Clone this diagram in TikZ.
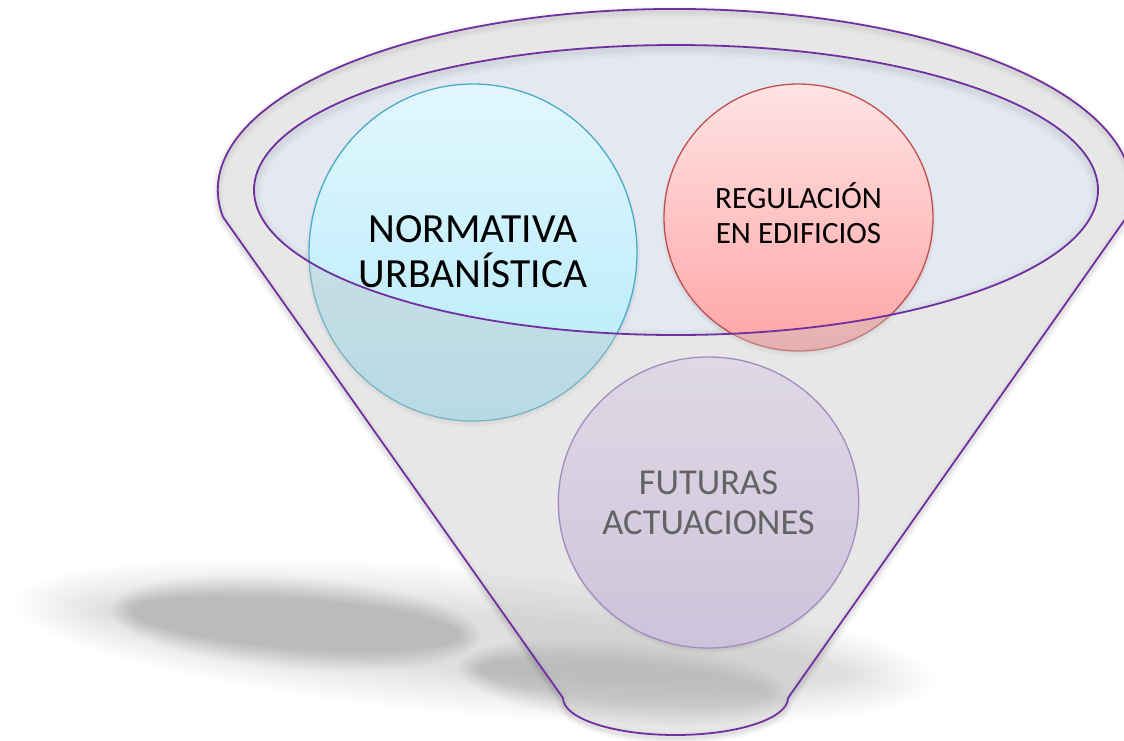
\documentclass[tikz,border=0pt]{standalone}
\usepackage{fontspec}
\setmainfont{Carlito}
\usetikzlibrary{shapes.geometric}
\definecolor{funnelpurple}{HTML}{7030A0}
\definecolor{innerfill}{HTML}{E4E8F0}
\definecolor{overlaygray}{HTML}{C2C2C2}
\definecolor{cyantop}{HTML}{E2F7FD}
\definecolor{cyanbot}{HTML}{B3EAFA}
\definecolor{cyanline}{HTML}{4BACC6}
\definecolor{redtop}{HTML}{FFE3E4}
\definecolor{redbot}{HTML}{FFA5A5}
\definecolor{redline}{HTML}{C0504D}
\definecolor{lilactop}{HTML}{DED9E5}
\definecolor{lilacbot}{HTML}{CDC3DB}
\definecolor{lilacline}{HTML}{A08DBD}
\definecolor{lilactext}{HTML}{636363}
\begin{document}
\begin{tikzpicture}[x=1pt,y=-1pt,
  funnelshape/.style={insert path={(223,217) arc[start angle=171.4, end angle=368.6, x radius=457, y radius=181] -- (788,698) arc[start angle=0, end angle=180, x radius=112.5, y radius=37] -- cycle}},
  innershape/.style={insert path={(676,190) ellipse [x radius=422, y radius=145]}},
  outline/.style={draw=funnelpurple, line width=1.8pt, line join=round},
  bubble/.style={ellipse, inner sep=0pt, line width=1.3pt},
  bigtext/.style={align=center, font=\fontsize{41.5}{45}\selectfont},
  midtext/.style={align=center, font=\fontsize{31}{35}\selectfont},
  lilacfont/.style={align=center, font=\fontsize{36.5}{40}\selectfont, text=lilactext}]
\useasboundingbox (0,0) rectangle (1124,740);
\fill[white] (0,0) rectangle (1124,740);

% ground shadows (soft, stacked)
\foreach \k in {0,...,15}{
  \fill[black, opacity=0.006, rotate around={-5:(475,642)}] (475,642) ellipse [x radius={462-6*\k}, y radius={74-3*\k}];
}
\foreach \k in {0,...,11}{
  \fill[black, opacity=0.012, rotate around={-4.4:(296,623)}] (296,623) ellipse [x radius={186-2*\k}, y radius={47-2*\k}];
  \fill[black, opacity=0.011, rotate around={-5:(625,682)}] (625,682) ellipse [x radius={168-2*\k}, y radius={42-2*\k}];
}

% funnel soft shadow
\foreach \w/\o in {12/0.025, 8/0.035, 4/0.05}{
  \draw[black, opacity=\o, line width=\w pt, line join=round, yshift=-3pt, funnelshape];
}

% inner ellipse fill with inner shadow
\fill[innerfill, innershape];
\begin{scope}
  \clip[innershape];
  \foreach \w in {16,10,5}{
    \draw[black, opacity=0.025, line width=\w pt, yshift=-3pt, innershape];
  }
\end{scope}

% circle shadows
\foreach \k in {0,...,3}{
  \fill[black, opacity=0.03] (473,256) ellipse [x radius={167-2*\k}, y radius={171-2*\k}];
  \fill[black, opacity=0.03] (798.5,221) ellipse [x radius={137-2*\k}, y radius={136-2*\k}];
}

% circles inside the funnel mouth
\node[bubble, minimum width=328pt, minimum height=337pt, top color=cyantop, bottom color=cyanbot, draw=cyanline] (norm) at (473,252.5) {};
\node[bubble, minimum width=269pt, minimum height=267pt, top color=redtop, bottom color=redbot, draw=redline] (regu) at (798.5,217.5) {};

% translucent funnel front
\fill[overlaygray, opacity=0.385, even odd rule, funnelshape, innershape];

% futuras circle
\foreach \k in {0,...,3}{
  \fill[black, opacity=0.03] (708.5,506) ellipse [x radius={149-2*\k}, y radius={147-2*\k}];
}
\node[bubble, minimum width=295pt, minimum height=291pt, top color=lilactop, bottom color=lilacbot, draw=lilacline, lilacfont] (futu) at (708.5,502.5) {FUTURAS\\ACTUACIONES};

% texts
\node[bigtext] (normtext) at (473,252) {NORMATIVA\\URBANÍSTICA};
\node[midtext] (regutext) at (798.5,213.5) {REGULACIÓN\\EN EDIFICIOS};

% outlines
\draw[outline, innershape];
\draw[outline, funnelshape];
\end{tikzpicture}
\end{document}
